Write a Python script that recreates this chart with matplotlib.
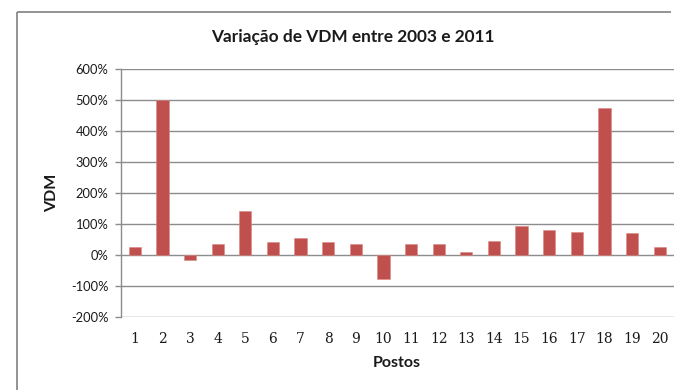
import matplotlib
matplotlib.use("Agg")
import matplotlib.pyplot as plt
from matplotlib.lines import Line2D
from matplotlib.ticker import FuncFormatter

# Variação percentual do VDM por posto entre 2003 e 2011
postos = list(range(1, 21))
variacao = [25, 500, -16, 36, 143, 41, 55, 41, 36, -78,
            35, 36, 9, 46, 95, 80, 73, 474, 70, 26]

y_ticks = [-200, -100, 0, 100, 200, 300, 400, 500, 600]

title = "Variação de VDM entre 2003 e 2011"
xlabel = "Postos"
ylabel = "VDM"

bar_color = "#C0504D"
grid_color = "#8C8C8C"
sans = ["Lato", "DejaVu Sans"]
serif = ["DejaVu Serif"]

W, H = 674, 390
fig = plt.figure(figsize=(W / 100, H / 100), dpi=100)
fig.patch.set_facecolor("white")
fig.patch.set_edgecolor("white")
fig.patch.set_linewidth(0)

# Chart area frame: top and left edges (the rest lies beyond the canvas)
fx, fy = 16.5 / W, 1 - 11.5 / H
frame_kw = dict(transform=fig.transFigure, color="#8A8A8A", linewidth=1.3,
                solid_capstyle="butt")
fig.add_artist(Line2D([fx, 0.996], [fy, fy], **frame_kw))
fig.add_artist(Line2D([fx, fx], [0.0, fy], **frame_kw))

ax = fig.add_axes([121 / W, 1 - 317 / H, 552.5 / W, 248 / H])
ax.bar(postos, variacao, width=0.44, color=bar_color,
       edgecolor="#D98A88", linewidth=0.4, zorder=3)

ax.set_xlim(0.5, 20.5)
ax.set_ylim(-200, 600)
ax.set_yticks(y_ticks)
ax.yaxis.set_major_formatter(FuncFormatter(lambda v, _: f"{int(v)}%"))
ax.set_xticks(postos)
ax.set_xticklabels([str(p) for p in postos])

ax.yaxis.grid(True, color=grid_color, linewidth=1.0, zorder=0)
ax.set_axisbelow(True)
for side in ("top", "right", "bottom"):
    ax.spines[side].set_visible(False)
ax.spines["left"].set_color(grid_color)
ax.spines["left"].set_linewidth(1.0)

ax.tick_params(axis="y", length=4, width=1.0, color=grid_color, pad=5,
               labelsize=9.3, labelcolor="#1a1a1a")
ax.tick_params(axis="x", length=0, pad=11, labelsize=10, labelcolor="#1a1a1a")
for lbl in ax.get_yticklabels():
    lbl.set_family(sans)
for lbl in ax.get_xticklabels():
    lbl.set_family(serif)

ax.set_xlabel(xlabel, family=sans, fontsize=11.5, fontweight="bold", color="#1a1a1a")
ax.xaxis.set_label_coords(0.5, -0.1855)
ax.xaxis.label.set_va("center")
ax.set_ylabel(ylabel, family=sans, fontsize=11.5, fontweight="bold", color="#1a1a1a")
ax.yaxis.set_label_coords(-0.1249, 0.5)
ax.yaxis.label.set_va("center")

fig.text(353 / W, 1 - 37 / H, title, ha="center", va="center",
         family=sans, fontsize=12.4, fontweight="bold", color="#1a1a1a")

fig.savefig("out.png", dpi=100, facecolor="white")
